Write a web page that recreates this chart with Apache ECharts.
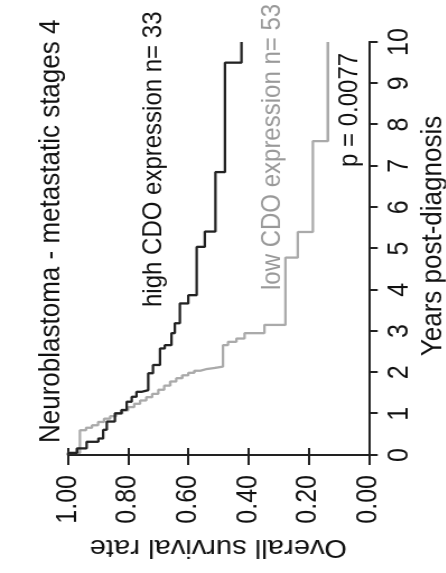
<!DOCTYPE html>
<html>
<head>
<meta charset="utf-8">
<script src="https://cdn.jsdelivr.net/npm/echarts@6/dist/echarts.min.js"></script>
<style>
html,body{margin:0;padding:0;background:#fff;overflow:hidden;width:446px;height:573px;}
#chart{position:absolute;left:0;top:0;width:573px;height:398px;transform-origin:0 0;transform:translateY(573px) rotate(-90deg) scaleY(1.12);}
</style>
</head>
<body>
<div id="chart"></div>
<script>
// Years post-diagnosis (event times) and overall survival after each event
const highTimes = [0, 0.05, 0.16, 0.32, 0.40, 0.61, 0.81, 1.01, 1.09, 1.29, 1.41, 1.53, 1.57, 1.98, 2.18, 2.58, 2.66, 2.95, 3.19, 3.67, 3.87, 5.04, 5.41, 6.85, 9.50, 10];
const highSurv  = [1.00, 0.97, 0.938, 0.899, 0.883, 0.871, 0.844, 0.822, 0.805, 0.788, 0.772, 0.755, 0.733, 0.717, 0.694, 0.678, 0.656, 0.645, 0.628, 0.600, 0.572, 0.545, 0.510, 0.478, 0.423, 0.423];
const lowTimes  = [0, 0.05, 0.60, 0.66, 0.72, 0.80, 0.88, 0.94, 1.00, 1.08, 1.16, 1.24, 1.32, 1.40, 1.48, 1.58, 1.68, 1.78, 1.86, 1.93, 1.99, 2.04, 2.08, 2.11, 2.14, 2.66, 2.74, 2.82, 2.95, 3.15, 4.78, 5.40, 7.60, 10];
const lowSurv   = [1.00, 0.96, 0.94, 0.92, 0.90, 0.88, 0.86, 0.84, 0.82, 0.80, 0.78, 0.76, 0.74, 0.72, 0.70, 0.68, 0.66, 0.64, 0.62, 0.60, 0.58, 0.56, 0.54, 0.51, 0.485, 0.468, 0.44, 0.413, 0.347, 0.277, 0.236, 0.186, 0.136, 0.136];
const yearTicks = ['0','1','2','3','4','5','6','7','8','9','10'];
const survTicks = ['0.00','0.20','0.40','0.60','0.80','1.00'];
const titleText = 'Neuroblastoma - metastatic stages 4';
const highLabel = 'high CDO expression n= 33';
const lowLabel  = 'low CDO expression n= 53';
const pLabel    = 'p = 0.0077';

const FONT = 'Liberation Sans, Arial, Helvetica, sans-serif';
const chart = echarts.init(document.getElementById('chart'), null, {renderer: 'canvas'});
const pairs = (t, s) => t.map((v, i) => [v, s[i]]);
const axisLine = {show: true, lineStyle: {color: '#222', width: 2}};

chart.setOption({
  animation: false,
  backgroundColor: '#fff',
  title: {
    text: titleText, left: 130, top: 33, padding: 0,
    textStyle: {fontSize: 26, fontWeight: 'normal', color: '#111', fontFamily: FONT}
  },
  grid: {left: 118, right: 42, top: 60.7, bottom: 68.7, containLabel: false, outerBoundsMode: 'none'},
  xAxis: {
    type: 'value', min: 0, max: 10, interval: 1,
    name: 'Years post-diagnosis', nameLocation: 'middle', nameGap: 39,
    nameTextStyle: {fontSize: 26, color: '#111', fontFamily: FONT, padding: [0, 0, 0, 25]},
    axisLine: axisLine,
    axisTick: {show: true, inside: false, length: 8, lineStyle: {color: '#222', width: 2}},
    axisLabel: {fontSize: 25, color: '#111', fontFamily: FONT, margin: 15,
      formatter: v => yearTicks[Math.round(v)]},
    splitLine: {show: false}
  },
  yAxis: [{
    type: 'value', min: 0, max: 1, interval: 0.2,
    name: 'Overall survival rate', nameLocation: 'middle', nameGap: 70, nameRotate: 90,
    nameTextStyle: {fontSize: 26, color: '#111', fontFamily: FONT},
    axisLine: axisLine,
    axisTick: {show: true, inside: false, length: 10, lineStyle: {color: '#222', width: 2}},
    axisLabel: {fontSize: 25, color: '#111', fontFamily: FONT, margin: 20,
      formatter: v => survTicks[Math.round(v * 5)]},
    splitLine: {show: false}
  }, {
    type: 'value', min: 0, max: 1, interval: 0.2, position: 'left',
    axisLine: {show: false},
    axisTick: {show: true, inside: true, length: 7, lineStyle: {color: '#222', width: 2}},
    axisLabel: {show: false}, splitLine: {show: false}
  }],
  graphic: [
    {type: 'text', left: 266, top: 125, style: {text: highLabel, fontSize: 24, fill: '#111', fontFamily: FONT}},
    {type: 'text', left: 283, top: 231, style: {text: lowLabel, fontSize: 24, fill: '#999', fontFamily: FONT}},
    {type: 'text', left: 406, top: 300, style: {text: pLabel, fontSize: 24, fill: '#111', fontFamily: FONT}}
  ],
  series: [{
    type: 'line', step: 'end', showSymbol: false, symbol: 'none',
    data: pairs(lowTimes, lowSurv),
    lineStyle: {color: '#aaa', width: 2.3}, z: 2
  }, {
    type: 'line', step: 'end', showSymbol: false, symbol: 'none',
    data: pairs(highTimes, highSurv),
    lineStyle: {color: '#222', width: 2.3}, z: 3
  }]
});
</script>
</body>
</html>
